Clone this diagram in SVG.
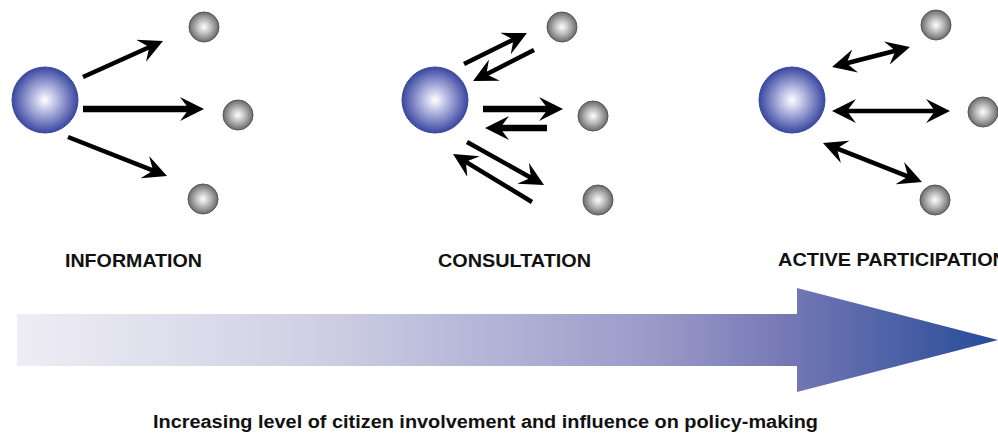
<svg xmlns="http://www.w3.org/2000/svg" width="998" height="435" viewBox="0 0 998 435">
<defs>
<radialGradient id="gBig" cx="0.5" cy="0.5" r="0.5">
<stop offset="0" stop-color="#ffffff"/>
<stop offset="0.4" stop-color="#b0b4de"/>
<stop offset="1" stop-color="#3a47a0"/>
</radialGradient>
<radialGradient id="gSmall" cx="0.5" cy="0.5" r="0.5">
<stop offset="0" stop-color="#ffffff"/>
<stop offset="0.5" stop-color="#b8b8b8"/>
<stop offset="1" stop-color="#6a6a6a"/>
</radialGradient>
<linearGradient id="gArrow" gradientUnits="userSpaceOnUse" x1="17" y1="0" x2="998" y2="0">
<stop offset="0" stop-color="#eeedf5"/>
<stop offset="0.3" stop-color="#d0d0e4"/>
<stop offset="0.5" stop-color="#b0b2d6"/>
<stop offset="0.65" stop-color="#9a9ac8"/>
<stop offset="0.79" stop-color="#7477b4"/>
<stop offset="1" stop-color="#264c98"/>
</linearGradient>
<marker id="head" markerUnits="userSpaceOnUse" viewBox="0 -12 24 24" refX="10" refY="0" markerWidth="24" markerHeight="24" orient="auto-start-reverse">
<path d="M0,-12 L24,0 L0,12 L9,0 Z" fill="#000"/>
</marker>
</defs>
<style>
.big{fill:url(#gBig);stroke:#3a479c;stroke-width:1}
.small{fill:url(#gSmall);stroke:#555;stroke-width:1}
.arr{stroke:#000;fill:none;stroke-width:4.5;marker-end:url(#head)}
.thick{stroke-width:6.5}
.dbl{marker-start:url(#head)}
.lbl{font-family:"Liberation Sans",Arial,sans-serif;font-weight:bold;font-size:19px;fill:#111}
.cap{font-family:"Liberation Sans",Arial,sans-serif;font-weight:bold;font-size:18px;fill:#111}
</style>

<g id="info">
<circle class="big" cx="45" cy="100" r="33"/>
<circle class="small" cx="204" cy="27" r="15"/>
<circle class="small" cx="238" cy="115" r="15"/>
<circle class="small" cx="203" cy="199" r="15"/>
</g>
<g id="consult">
<circle class="big" cx="435" cy="100" r="33"/>
<circle class="small" cx="562" cy="27" r="15"/>
<circle class="small" cx="593" cy="116" r="15"/>
<circle class="small" cx="598" cy="200" r="15"/>
</g>
<g id="active">
<circle class="big" cx="792" cy="100" r="33"/>
<circle class="small" cx="936" cy="25" r="15"/>
<circle class="small" cx="983" cy="112" r="15"/>
<circle class="small" cx="935" cy="200" r="15"/>
</g>

<g id="connectors">
<line class="arr" x1="83" y1="77" x2="150.2" y2="46.7"/>
<line class="arr thick" x1="83" y1="109" x2="190" y2="109"/>
<line class="arr" x1="68" y1="137" x2="154" y2="170.9"/>

<line class="arr" x1="464" y1="64" x2="514.4" y2="39.2"/>
<line class="arr" x1="534" y1="50" x2="485.5" y2="74.7"/>
<line class="arr thick" x1="483" y1="109" x2="549" y2="109"/>
<line class="arr thick" x1="547" y1="128" x2="499" y2="128"/>
<line class="arr" x1="467" y1="142" x2="531.8" y2="178.2"/>
<line class="arr" x1="532" y1="202" x2="465" y2="161.3"/>

<line class="arr dbl" x1="845.6" y1="63.5" x2="896.4" y2="50.5"/>
<line class="arr dbl" x1="846" y1="111" x2="936" y2="111"/>
<line class="arr dbl" x1="836" y1="148.1" x2="909" y2="176.9"/>
</g>

<g id="labels">
<text class="lbl" x="65" y="267" textLength="137" lengthAdjust="spacingAndGlyphs">INFORMATION</text>
<text class="lbl" x="438" y="267" textLength="153" lengthAdjust="spacingAndGlyphs">CONSULTATION</text>
<text class="lbl" x="778" y="266" textLength="229" lengthAdjust="spacingAndGlyphs">ACTIVE PARTICIPATION</text>
</g>

<g id="progress">
<polygon points="17,314 797,314 797,288 998,340 797,392 797,366 17,366" fill="url(#gArrow)"/>
<text class="cap" x="153" y="428" textLength="665" lengthAdjust="spacingAndGlyphs">Increasing level of citizen involvement and influence on policy-making</text>
</g>
</svg>
